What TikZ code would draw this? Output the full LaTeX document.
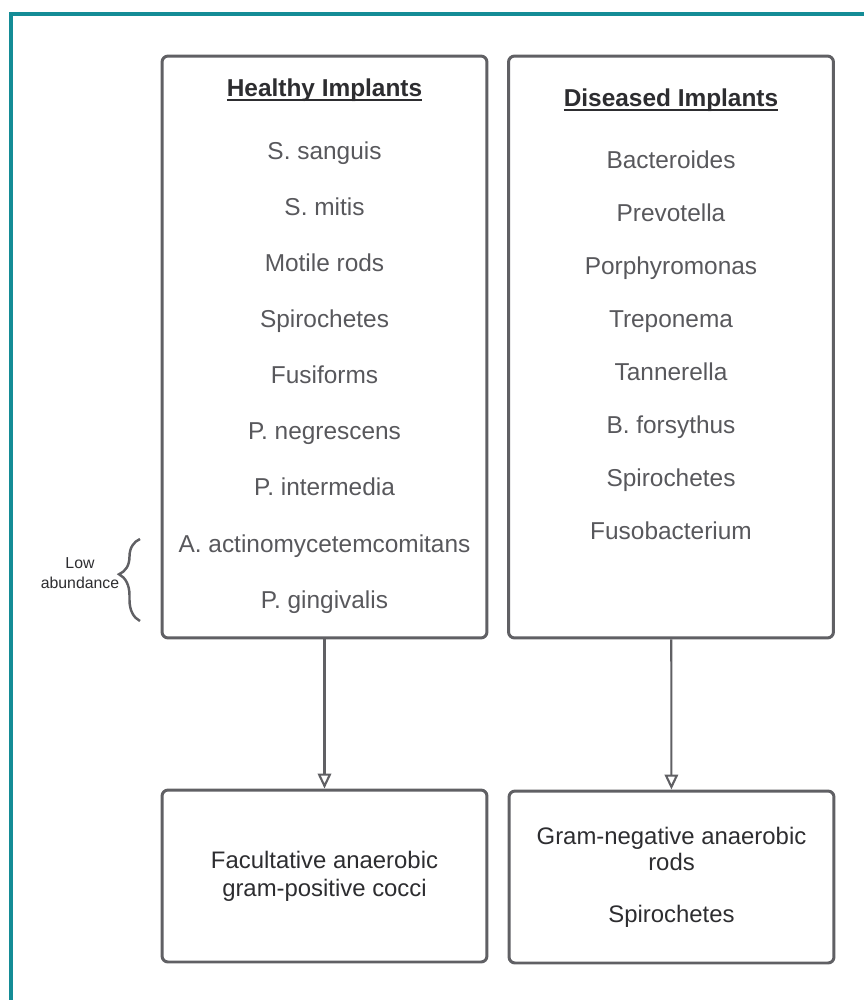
\documentclass[tikz,border=0pt]{standalone}
\usepackage{fontspec}
\setmainfont{Liberation Sans}
\usetikzlibrary{arrows.meta, positioning, decorations.pathreplacing}
\definecolor{frameTeal}{RGB}{20,140,150}
\definecolor{boxLine}{RGB}{96,96,100}
\definecolor{itemText}{RGB}{88,88,92}
\definecolor{darkText}{RGB}{45,45,48}
\newsavebox{\hdrbox}
\newcommand{\hdrline}[1]{\sbox{\hdrbox}{#1}\rlap{\rule[-2.7pt]{\wd\hdrbox}{1.1pt}}\usebox{\hdrbox}}

\begin{document}
\begin{tikzpicture}[
    x=0.02cm, y=-0.02cm,
    node distance=0.5cm,
    implantBox/.style={
        rectangle,
        rounded corners=0.12cm,
        draw=boxLine,
        line width=1.7pt,
        minimum width=6.5cm,
        minimum height=11.64cm
    },
    resultBox/.style={
        rectangle,
        rounded corners=0.12cm,
        draw=boxLine,
        line width=1.7pt,
        minimum width=6.5cm,
        minimum height=3.44cm,
        align=center,
        text=darkText
    },
    listText/.style={
        align=center,
        inner sep=0pt,
        text=itemText
    },
    flow/.style={
        draw=boxLine,
        line width=1.2pt,
        -{Triangle[open, length=0.3cm, width=0.27cm]}
    }
]

\useasboundingbox (0,0) rectangle (864,1000);

% outer frame
\draw[frameTeal, line width=2.2pt] (11,1010) |- (880,14);

% Row 1
\node[implantBox] (healthy) at (324.5,347) {};
\node[implantBox] (diseased) at (671,347) {};

\node[listText, below=0.48cm of healthy.north,
      font=\fontsize{13.9}{31.9}\selectfont] (hlist) {
{\color{darkText}\hdrline{\textbf{Healthy Implants}}}\\[4pt]
S. sanguis\\
S. mitis\\
Motile rods\\
Spirochetes\\
Fusiforms\\
P. negrescens\\
P. intermedia\\
A. actinomycetemcomitans\\
P. gingivalis
};

\node[listText, below=0.68cm of diseased.north,
      font=\fontsize{13.9}{30.2}\selectfont] (dlist) {
{\color{darkText}\hdrline{\textbf{Diseased Implants}}}\\[5pt]
Bacteroides\\
Prevotella\\
Porphyromonas\\
Treponema\\
Tannerella\\
B. forsythus\\
Spirochetes\\
Fusobacterium
};

% Row 2
\node[resultBox, font=\fontsize{13.6}{15.9}\selectfont] (cocci) at (324.5,876) {
Facultative anaerobic\\
gram-positive cocci
};

\node[resultBox, font=\fontsize{13.6}{14.8}\selectfont] (rods) at (671.5,877) {
Gram-negative anaerobic\\
rods\\[14.8pt]
Spirochetes
};

\draw[flow] (healthy) -- (cocci);
\draw[flow] (diseased) -- (rods);

% low abundance
\draw[decorate, decoration={brace, amplitude=0.42cm, aspect=0.57},
      boxLine, line width=1.4pt] (140,621) -- (140,539);
\node[align=center, text=darkText, font=\fontsize{9}{11.4}\selectfont] (low) at (80,573) {
Low\\
abundance
};

\end{tikzpicture}
\end{document}
